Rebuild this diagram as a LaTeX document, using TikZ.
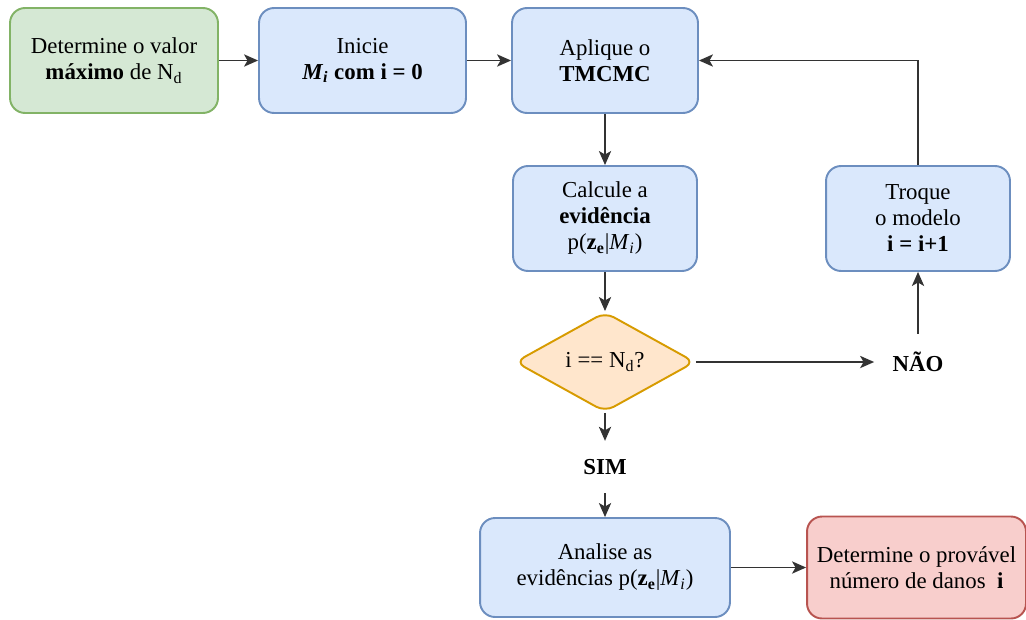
\documentclass[tikz,border=0pt]{standalone}
\usepackage{fontspec}
\setmainfont{Liberation Serif}
\usetikzlibrary{shapes.geometric,arrows.meta}

\definecolor{greenfill}{HTML}{D5E8D4}
\definecolor{greenline}{HTML}{82B366}
\definecolor{bluefill}{HTML}{DAE8FC}
\definecolor{blueline}{HTML}{6C8EBF}
\definecolor{orangefill}{HTML}{FFE6CC}
\definecolor{orangeline}{HTML}{D79B00}
\definecolor{redfill}{HTML}{F8CECC}
\definecolor{redline}{HTML}{B85450}

\tikzset{
  box/.style={draw=blueline, fill=bluefill, rounded corners=0.3cm, line width=1.1pt,
    align=center, minimum height=2.1cm, inner sep=2pt, font=\fontsize{13}{14.8}\selectfont},
  decision/.style={diamond, draw=orangeline, fill=orangefill, rounded corners=0.2cm,
    line width=1.1pt, minimum width=3.6cm, minimum height=2cm, inner sep=0pt,
    font=\fontsize{13}{14.8}\selectfont},
  answer/.style={font=\fontsize{13}{14.8}\selectfont\bfseries, inner sep=2pt, outer sep=0.3cm},
  flow/.style={-{Stealth[length=8pt,width=7pt,inset=2pt]}, line width=0.8pt, draw=black!80}
}

\begin{document}
\begin{tikzpicture}[x=0.02cm,y=-0.02cm]
            \useasboundingbox (0,0) rectangle (1026,619);

            % first row
            \node[box, fill=greenfill, draw=greenline, minimum width=4.16cm] (valor) at (114,60.5)
                {Determine o valor\\\textbf{máximo} de N\textsubscript{d}};
            \node[box, minimum width=4.14cm] (inicie) at (362.5,60.5)
                {Inicie\\\textbf{\textit{M}\textsubscript{\textit{i}} com i = 0}};
            \node[box, minimum width=3.72cm] (tmcmc) at (605,60.5)
                {Aplique o\\\textbf{TMCMC}};

            % loop
            \node[box, minimum width=3.68cm] (calcule) at (605,218.5)
                {Calcule a\\\textbf{evidência}\\p(\textbf{z}\textsubscript{\textbf{e}}|\textit{M}\textsubscript{\textit{i}})};
            \node[box, minimum width=3.68cm] (troque) at (918,218.5)
                {Troque\\o modelo\\\textbf{i = i+1}};
            \node[decision] (teste) at (605,362) {i == N\textsubscript{d}?};
            \node[answer] (nao) at (918,362) {NÃO};
            \node[answer] (sim) at (605,467) {SIM};

            % last row
            \node[box, minimum width=5cm, minimum height=1.98cm] (analise) at (605,567.5)
                {Analise as\\evidências p(\textbf{z}\textsubscript{\textbf{e}}|\textit{M}\textsubscript{\textit{i}})};
            \node[box, fill=redfill, draw=redline, minimum width=4.38cm, minimum height=2.04cm] (provavel) at (916.5,567.5)
                {Determine o provável\\número de danos~~\textbf{i}};

            \draw[flow] (valor) -- (inicie);
            \draw[flow] (inicie) -- (tmcmc);
            \draw[flow] (tmcmc) -- (calcule);
            \draw[flow] (calcule) -- (teste);
            \draw[flow] (teste) -- (nao);
            \draw[flow] (nao) -- (troque);
            \draw[flow] (troque) |- (tmcmc);
            \draw[flow] (teste) -- (sim);
            \draw[flow] (sim) -- (analise);
            \draw[flow] (analise) -- (provavel);
        \end{tikzpicture}
\end{document}
